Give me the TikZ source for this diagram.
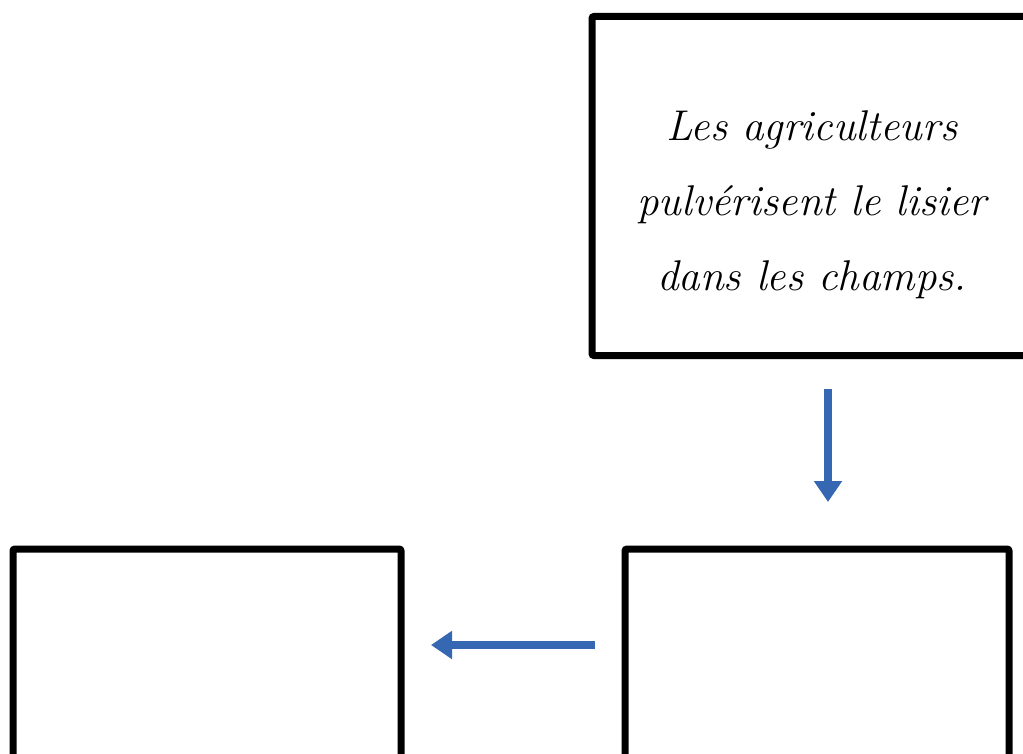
\documentclass[tikz,border=0pt]{standalone}
\usetikzlibrary{arrows.meta}
\definecolor{arrowblue}{RGB}{54,103,178}
\tikzset{
  framebox/.style={draw=black, line width=7pt, rounded corners=2pt, fill=white, inner sep=0pt},
  bluearrow/.style={draw=arrowblue, line width=7.5pt, -{Triangle[width=27pt,length=21pt]}},
  cursive/.style={font=\fontsize{43}{75}\selectfont\itshape, align=center}
}
\begin{document}
\begin{tikzpicture}[x=1pt,y=-1pt]
\useasboundingbox (0,0) rectangle (1023,754);
\clip (0,0) rectangle (1023,754);
\node[framebox, minimum width=448pt, minimum height=339pt] (top) at (816,186) {};
\node[cursive] (txt) at (812,205) {Les agriculteurs\\pulvérisent le lisier\\dans les champs.};
\node[framebox, minimum width=384pt, minimum height=260pt] (br) at (817,679) {};
\node[framebox, minimum width=388pt, minimum height=260pt] (bl) at (207,679) {};
\coordinate (v1) at (828,389);
\coordinate (v2) at (828,502);
\coordinate (h1) at (595,645);
\coordinate (h2) at (431,645);
\draw[bluearrow] (v1) -- (v2);
\draw[bluearrow] (h1) -- (h2);
\end{tikzpicture}
\end{document}
